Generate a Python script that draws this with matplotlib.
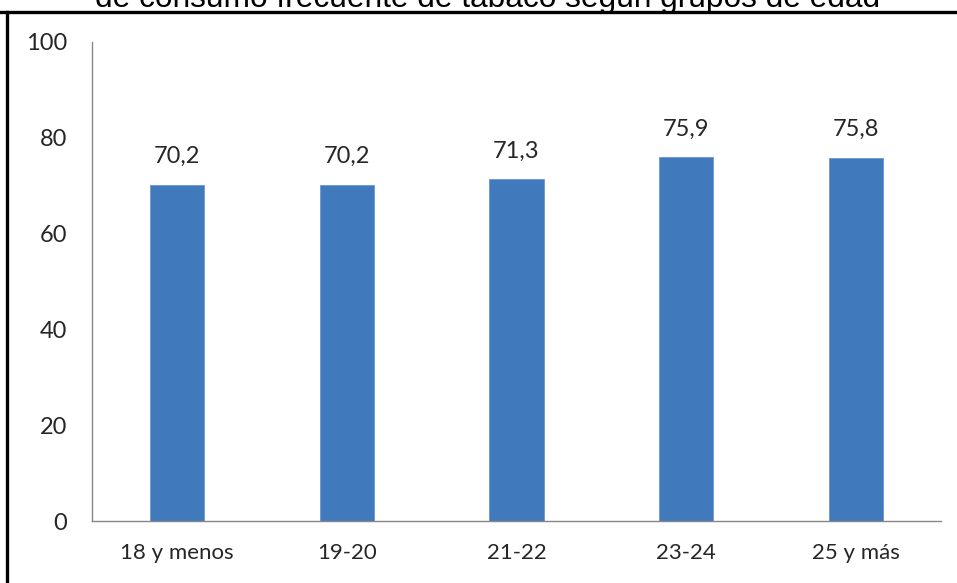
import matplotlib.pyplot as plt
from matplotlib.lines import Line2D

categories = ['18 y menos', '19-20', '21-22', '23-24', '25 y más']
values = [70.2, 70.2, 71.3, 75.9, 75.8]
yticks = [0, 20, 40, 60, 80, 100]
title = 'de consumo frecuente de tabaco según grupos de edad'

bar_color = '#4179BD'
axis_color = '#868686'
label_font = 'Lato'

fig = plt.figure(figsize=(9.57, 5.83), dpi=100)
ax = fig.add_axes([0.0961, 0.1063, 0.8872, 0.8217])

x = range(len(categories))
bars = ax.bar(x, values, width=0.32, color=bar_color, edgecolor='#6D97CF', linewidth=0.6)

for rect, v in zip(bars, values):
    ax.annotate(f'{v:.1f}'.replace('.', ','),
                (rect.get_x() + rect.get_width() / 2, v),
                xytext=(0, 13), textcoords='offset points',
                ha='center', va='bottom', fontsize=17,
                family=label_font, color='#262626')

ax.set_xlim(-0.5, len(categories) - 0.5)
ax.set_ylim(0, 100)
ax.set_yticks(yticks)
ax.set_yticklabels([str(t) for t in yticks], family=label_font, fontsize=17, color='#262626')
ax.set_xticks(list(x))
ax.set_xticklabels(categories, family=label_font, fontsize=16, color='#262626')
ax.tick_params(axis='y', length=0, pad=18)
ax.tick_params(axis='x', length=0, pad=16)

for side in ('top', 'right'):
    ax.spines[side].set_visible(False)
for side in ('left', 'bottom'):
    ax.spines[side].set_color(axis_color)
    ax.spines[side].set_linewidth(1.0)

# heading that runs off the top edge, plus the black frame lines
fig.text(487.5 / 957, 1 - 7 / 583, title, ha='center', va='baseline',
         fontsize=22.8, family='Liberation Sans', color='black')
fig.add_artist(Line2D([0, 1], [1 - 11.5 / 583] * 2, color='black', linewidth=2.4,
                      transform=fig.transFigure))
fig.add_artist(Line2D([7.5 / 957] * 2, [0, 1 - 11.5 / 583], color='black', linewidth=2.4,
                      transform=fig.transFigure))

fig.savefig('out.png', dpi=100)
